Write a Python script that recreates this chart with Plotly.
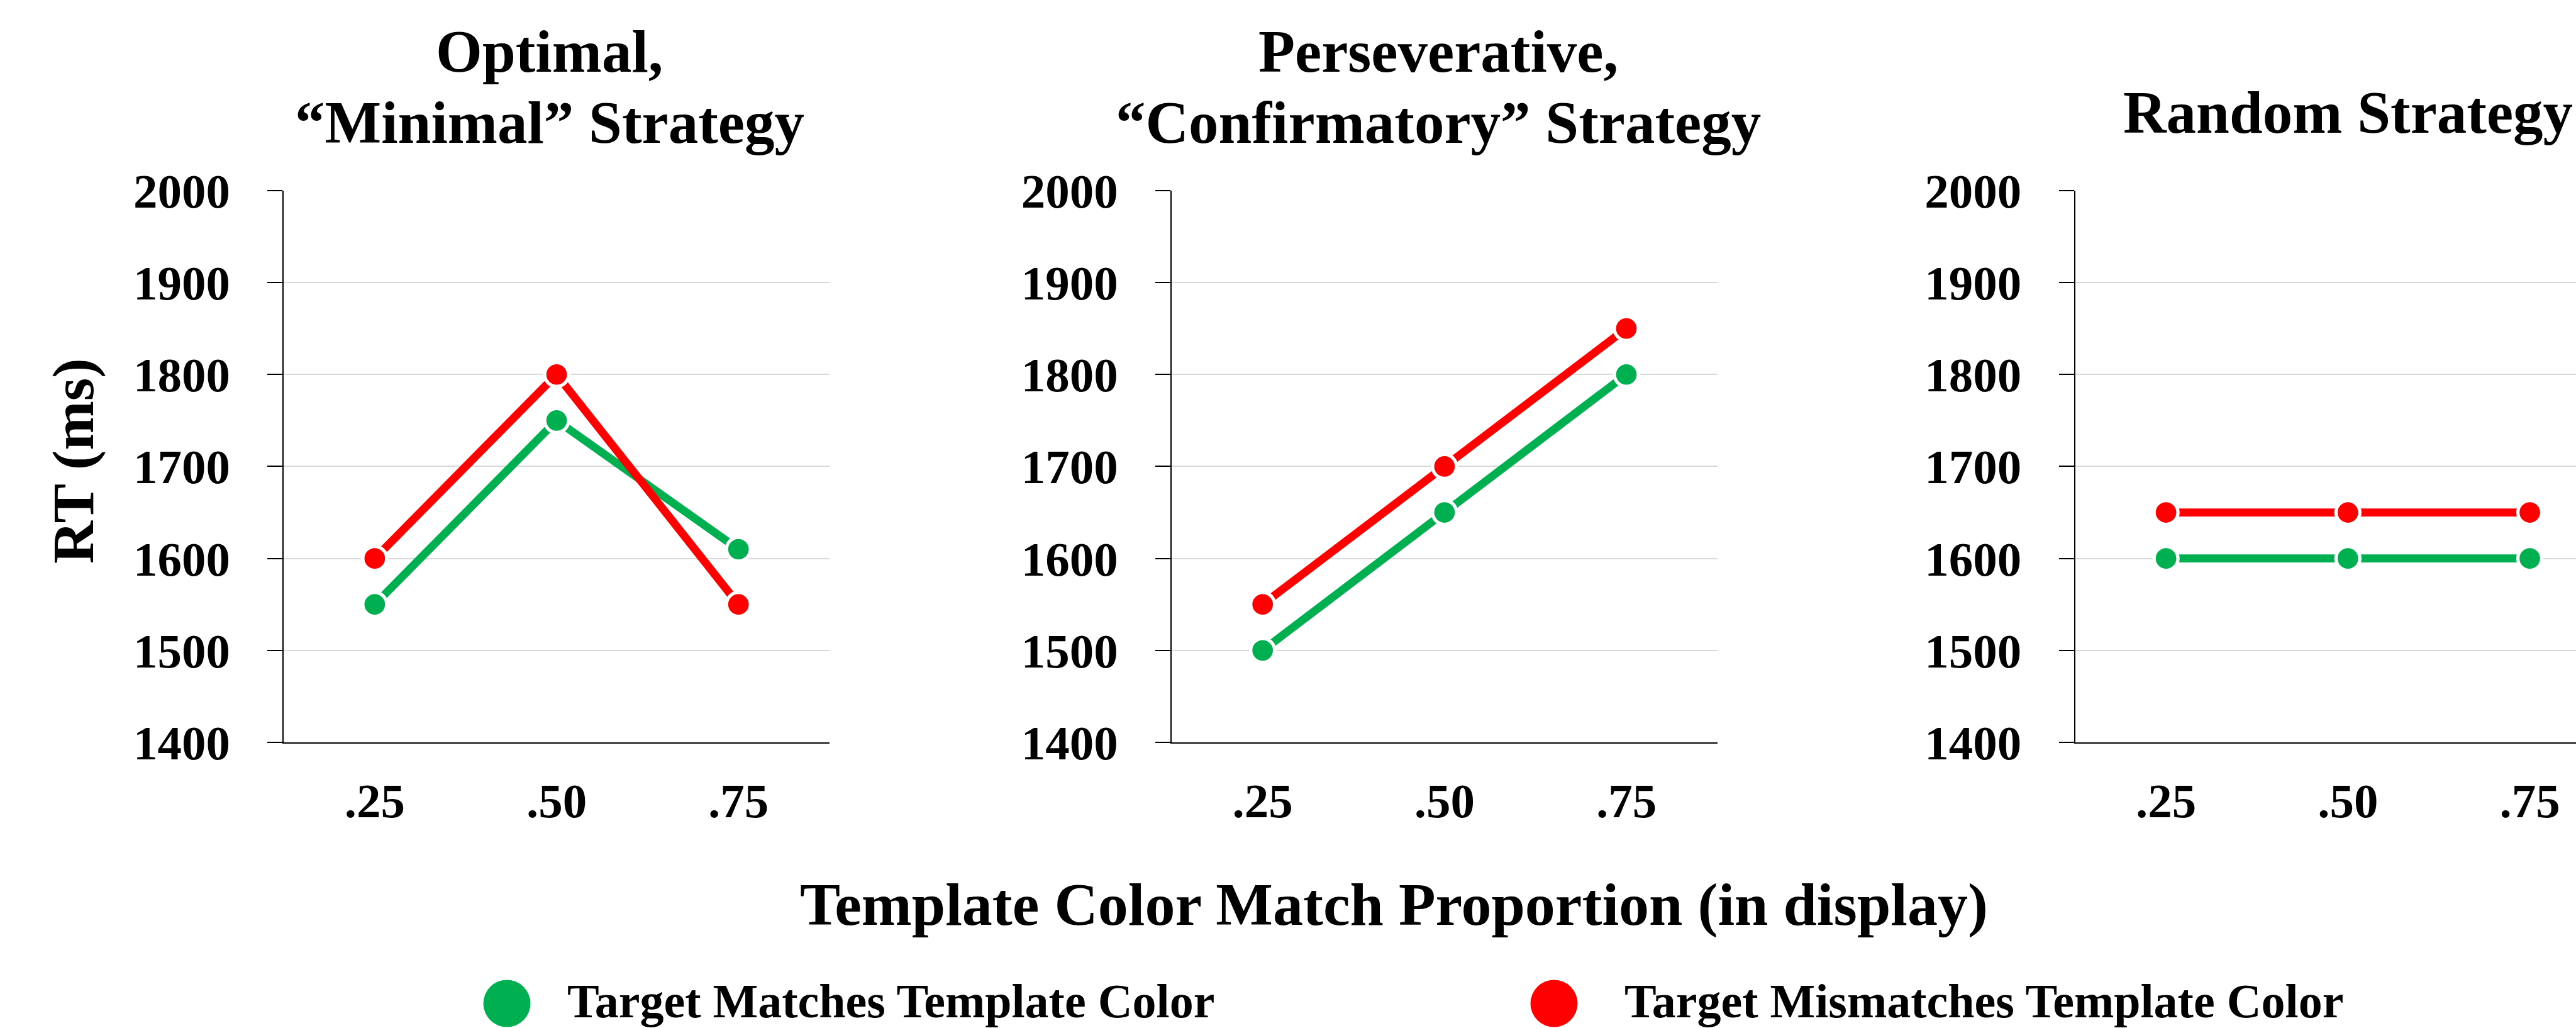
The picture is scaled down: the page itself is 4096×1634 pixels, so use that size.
import plotly.graph_objects as go
from plotly.subplots import make_subplots

# ---- data -------------------------------------------------------------
proportions = [".25", ".50", ".75"]

panel_titles = [
    ["Optimal,", "\u201cMinimal\u201d Strategy"],
    ["Perseverative,", "\u201cConfirmatory\u201d Strategy"],
    ["Random Strategy"],
]

optimal_match = [1550, 1750, 1610]
optimal_mismatch = [1600, 1800, 1550]

persev_match = [1500, 1650, 1800]
persev_mismatch = [1550, 1700, 1850]

random_match = [1600, 1600, 1600]
random_mismatch = [1650, 1650, 1650]

series_names = ["Target Matches Template Color", "Target Mismatches Template Color"]
y_ticks = [1400, 1500, 1600, 1700, 1800, 1900, 2000]

# ---- styling ----------------------------------------------------------
W, H = 4096, 1634
FONT = "Liberation Serif"
GREEN = "#00B050"
RED = "#FF0000"


def px_x(v):
    return v / W


def px_y(v):
    return 1 - v / H


fig = make_subplots(rows=1, cols=3)

panels = [
    (optimal_match, optimal_mismatch),
    (persev_match, persev_mismatch),
    (random_match, random_mismatch),
]

for i, (match, mismatch) in enumerate(panels, start=1):
    for vals, color, name in ((match, GREEN, series_names[0]),
                              (mismatch, RED, series_names[1])):
        fig.add_trace(
            go.Scatter(
                x=proportions, y=vals, mode="lines+markers", name=name,
                showlegend=False, cliponaxis=False,
                line=dict(color=color, width=12.8),
                marker=dict(color=color, size=38,
                            line=dict(color="white", width=5.3)),
            ),
            row=1, col=i,
        )

# plot-area positions (pixels in the 4096 x 1634 canvas)
x_domains = [(451.3, 1318.8), (1863.1, 2730.6), (3299.5, 4096.0)]
x_ranges = [(-0.5, 2.5), (-0.5, 2.5), (-0.5, 2.254)]
y_top, y_bot = 302.9, 1180.0

for i in range(3):
    xa = "xaxis" if i == 0 else f"xaxis{i + 1}"
    ya = "yaxis" if i == 0 else f"yaxis{i + 1}"
    fig.layout[xa].update(
        domain=[px_x(x_domains[i][0]), px_x(x_domains[i][1])],
        type="category", range=list(x_ranges[i]),
        showgrid=False, zeroline=False, automargin=False,
        showline=True, linecolor="black", linewidth=2,
        ticks="", ticklabelstandoff=25,
        tickfont=dict(family=FONT, size=77, color="black", weight="bold"),
    )
    fig.layout[ya].update(
        domain=[px_y(y_bot), px_y(y_top)],
        range=[1400, 2000], tickvals=y_ticks,
        showgrid=True, gridcolor="#D9D9D9", gridwidth=1.6,
        zeroline=False, automargin=False,
        showline=True, linecolor="black", linewidth=1.8,
        ticks="outside", ticklen=24, tickwidth=2, tickcolor="black",
        ticklabelstandoff=44,
        tickfont=dict(family=FONT, size=77, color="black", weight="bold"),
    )

annotations = []
title_font = dict(family=FONT, size=95, color="black", weight="bold")

# panel titles
title_centers = [874, 2287, 3733]
for cx, lines in zip(title_centers, panel_titles):
    ys = [82, 195] if len(lines) == 2 else [179]
    for text, cy in zip(lines, ys):
        annotations.append(dict(
            text=text, x=px_x(cx), y=px_y(cy), xref="paper", yref="paper",
            xanchor="center", yanchor="middle", showarrow=False,
            font=title_font,
        ))

# shared axis titles
annotations.append(dict(
    text="Template Color Match Proportion (in display)",
    x=px_x(2216), y=px_y(1437), xref="paper", yref="paper",
    xanchor="center", yanchor="middle", showarrow=False,
    font=dict(family=FONT, size=96, color="black", weight="bold"),
))
annotations.append(dict(
    text="RT (ms)", textangle=-90,
    x=px_x(116), y=px_y(733), xref="paper", yref="paper",
    xanchor="center", yanchor="middle", showarrow=False,
    font=dict(family=FONT, size=94, color="black", weight="bold"),
))

# legend: large dot + label for each series, along the bottom edge
shapes = []
legend_items = [(806, 901, GREEN, series_names[0]),
                (2471, 2582, RED, series_names[1])]
legend_y = 1595
for dot_x, text_x, color, name in legend_items:
    shapes.append(dict(
        type="circle", xref="paper", yref="paper",
        xsizemode="pixel", ysizemode="pixel",
        xanchor=px_x(dot_x), yanchor=px_y(legend_y),
        x0=-37.5, x1=37.5, y0=-37.5, y1=37.5,
        fillcolor=color, line=dict(width=0),
    ))
    annotations.append(dict(
        text=name, x=px_x(text_x), y=0,
        xref="paper", yref="paper", xanchor="left", yanchor="bottom",
        showarrow=False, borderpad=0,
        font=dict(family=FONT, size=76, color="black", weight="bold"),
    ))

fig.update_layout(
    width=W, height=H,
    margin=dict(l=0, r=0, t=0, b=0, pad=0, autoexpand=False),
    paper_bgcolor="white", plot_bgcolor="white",
    font=dict(family=FONT, color="black", weight="bold"),
    showlegend=False,
    annotations=annotations,
    shapes=shapes,
)

fig.write_html("out.html")
